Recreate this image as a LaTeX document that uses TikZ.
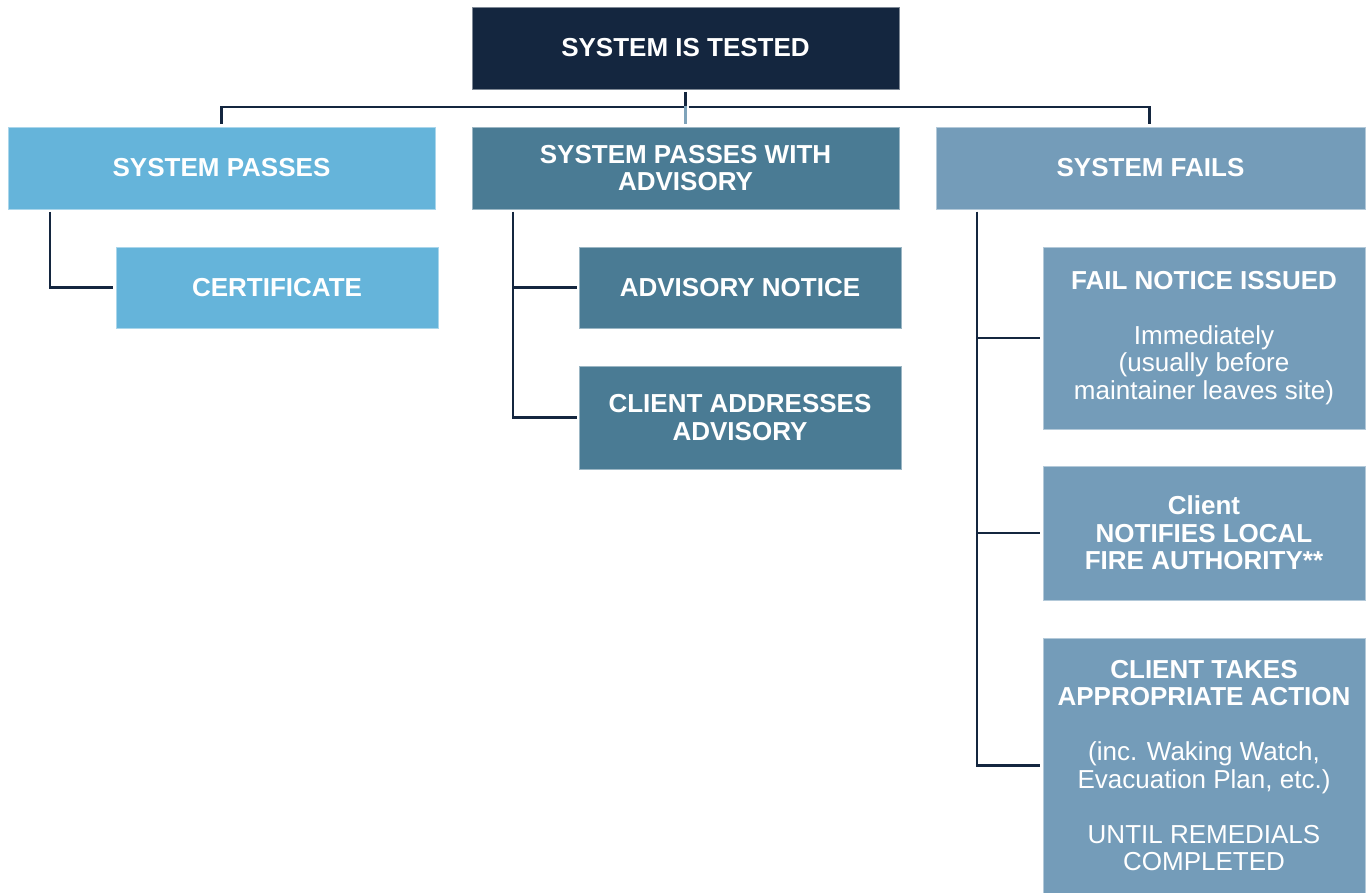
\documentclass[tikz,border=0pt]{standalone}
\usepackage{fontspec}
\setmainfont{Liberation Sans}
\definecolor{navy}{HTML}{14263F}
\definecolor{cpass}{HTML}{65B4DA}
\definecolor{cadv}{HTML}{4A7B94}
\definecolor{cfail}{HTML}{749CB9}
\definecolor{cmid}{HTML}{7FA3BA}
\begin{document}
\begin{tikzpicture}[x=1pt,y=-1pt,
  box/.style={rectangle, inner sep=0pt, outer sep=0pt, anchor=north west, text=white,
    font=\fontsize{26}{27.5}\selectfont, align=center, draw=#1!55!white, line width=0.6pt, fill=#1},
  conn/.style={draw=navy, line width=2.5pt, line join=miter},
  bb/.style={font=\fontsize{26}{27.5}\selectfont\bfseries}]
\useasboundingbox (0,0) rectangle (1369,893);
\fill[white] (0,0) rectangle (1369,893);

\node[box=navy, minimum width=427pt, minimum height=82pt, bb] (top) at (472,7) {SYSTEM IS TESTED};
\node[box=cpass, minimum width=427pt, minimum height=82pt, bb] (pass) at (8,127) {SYSTEM PASSES};
\node[box=cadv, minimum width=427pt, minimum height=82pt, bb] (adv) at (472,127) {SYSTEM PASSES WITH\\ADVISORY};
\node[box=cfail, minimum width=429pt, minimum height=82pt, bb] (fail) at (936,127) {SYSTEM FAILS};

\node[box=cpass, minimum width=322pt, minimum height=81pt, bb] (cert) at (116,247) {CERTIFICATE};
\node[box=cadv, minimum width=322pt, minimum height=81pt, bb] (advn) at (579,247) {ADVISORY NOTICE};
\node[box=cadv, minimum width=322pt, minimum height=103pt, bb] (caa) at (579,366) {CLIENT ADDRESSES\\ADVISORY};

\node[box=cfail, minimum width=322pt, minimum height=182pt] (fni) at (1043,247)
  {\textbf{FAIL NOTICE ISSUED}\\[27.5pt]Immediately\\(usually before\\maintainer leaves site)};
\node[box=cfail, minimum width=322pt, minimum height=134pt, bb] (cnl) at (1043,466)
  {Client\\NOTIFIES LOCAL\\FIRE AUTHORITY**};
\node[box=cfail, minimum width=322pt, minimum height=255pt] (cta) at (1043,638)
  {\textbf{CLIENT TAKES}\\\textbf{APPROPRIATE ACTION}\\[27.5pt](inc. Waking Watch,\\Evacuation Plan, etc.)\\[27.5pt]UNTIL REMEDIALS\\COMPLETED};

% top connectors
\coordinate (hub) at (top.south |- 0,107);
\draw[conn, shorten <=3pt] (top.south) -- (hub);
\draw[conn, shorten <=3pt, shorten >=3pt] (hub) -| ([xshift=-1pt]fail.north);
\draw[conn, shorten >=3pt] (hub) -| (pass.north);
\draw[draw=cmid, line width=2.5pt, shorten >=3pt] ([yshift=1.25pt]hub) -- (adv.north);

% passes
\draw[conn, shorten <=3pt, shorten >=3pt] ([xshift=42pt]pass.south west) |- (cert.west);
% advisory
\draw[conn, shorten <=3pt, shorten >=2pt] ([xshift=41pt]adv.south west) |- (advn.west);
\draw[conn, shorten <=3pt, shorten >=2pt] ([xshift=41pt]adv.south west) |- (caa.west);
% fails
\draw[conn, shorten <=3pt, shorten >=3pt] ([xshift=41pt]fail.south west) |- (fni.west);
\draw[conn, shorten <=3pt, shorten >=3pt] ([xshift=41pt]fail.south west) |- (cnl.west);
\draw[conn, shorten <=3pt, shorten >=3pt] ([xshift=41pt]fail.south west) |- (cta.west);
\end{tikzpicture}
\end{document}
